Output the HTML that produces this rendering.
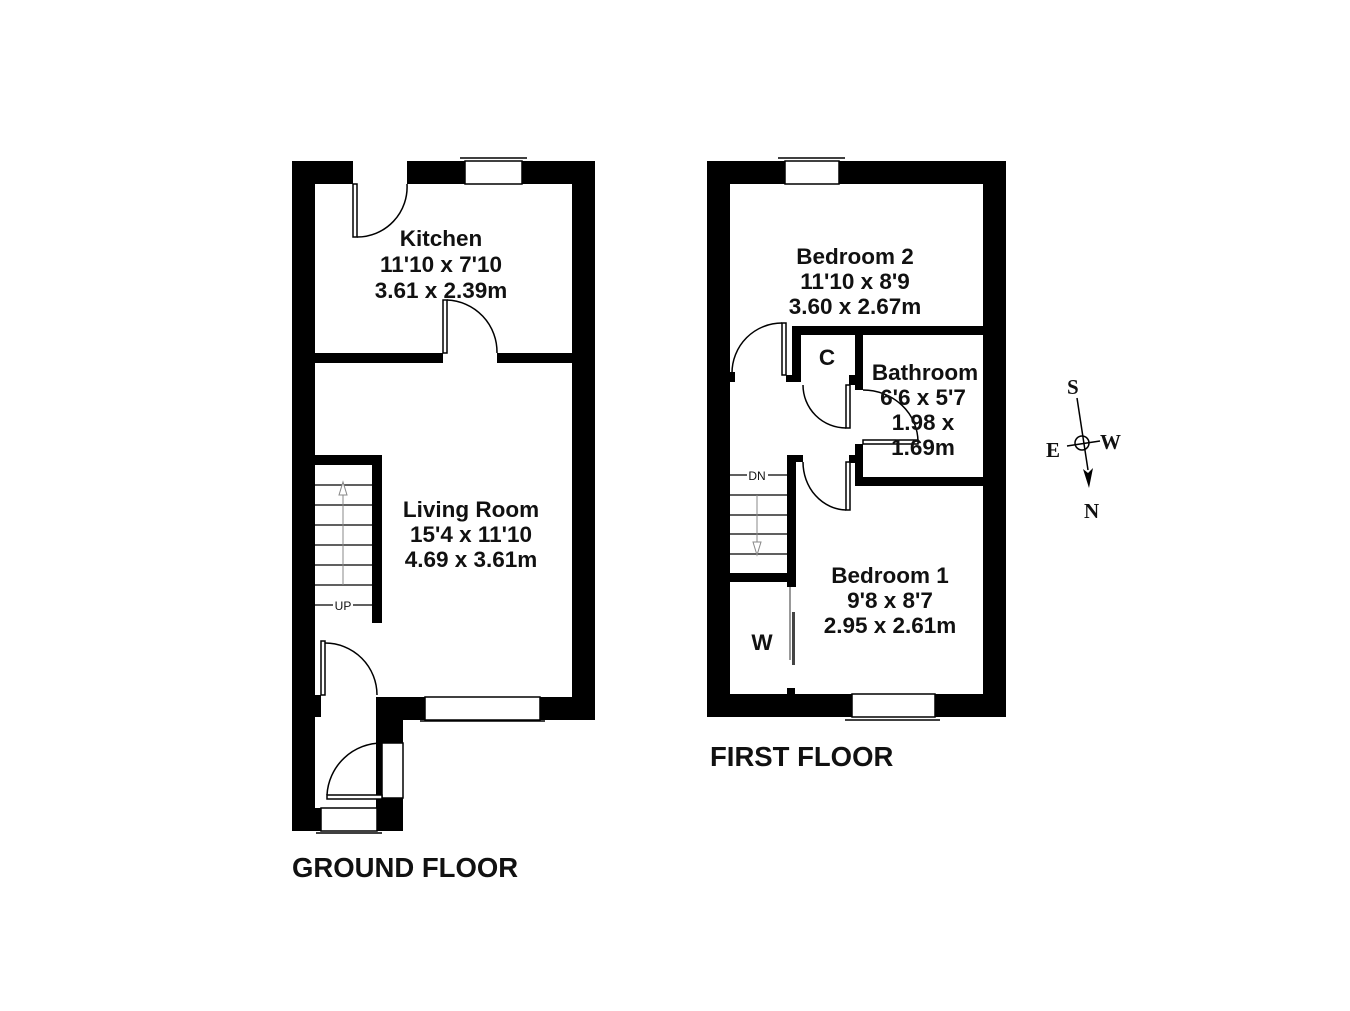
<!DOCTYPE html>
<html><head><style>body{margin:0;background:#fff}svg{display:block}text{font-family:"Liberation Sans",Arial,sans-serif;font-weight:bold;fill:#111}</style></head><body>
<svg width="1350" height="1011" viewBox="0 0 1350 1011" xmlns="http://www.w3.org/2000/svg">
<g fill="#000">
<rect x="292" y="161" width="61" height="23"/><rect x="407" y="161" width="188" height="23"/>
<rect x="292" y="161" width="23" height="670"/>
<rect x="572" y="161" width="23" height="559"/>
<rect x="315" y="353" width="128" height="10"/><rect x="497" y="353" width="75" height="10"/>
<rect x="376" y="697" width="219" height="23"/>
<rect x="376" y="697" width="27" height="46"/><rect x="376" y="697" width="6" height="134"/><rect x="376" y="798" width="27" height="33"/>
<rect x="292" y="808" width="111" height="23"/>
<rect x="315" y="695" width="6" height="22"/>
<rect x="315" y="455" width="67" height="10"/><rect x="372" y="455" width="10" height="168"/>
<rect x="707" y="161" width="299" height="23"/>
<rect x="707" y="161" width="23" height="556"/>
<rect x="983" y="161" width="23" height="556"/>
<rect x="707" y="694" width="299" height="23"/>
<rect x="792" y="326" width="191" height="9"/>
<rect x="792" y="326" width="9" height="56"/><rect x="786" y="375" width="15" height="7"/>
<rect x="730" y="372" width="5" height="10"/>
<rect x="855" y="326" width="8" height="64"/><rect x="849" y="375" width="14" height="10"/>
<rect x="855" y="444" width="8" height="42"/><rect x="855" y="477" width="128" height="9"/><rect x="849" y="455" width="14" height="8"/>
<rect x="787" y="455" width="9" height="132"/><rect x="787" y="455" width="16" height="7"/>
<rect x="730" y="573" width="66" height="9"/>
<rect x="787" y="688" width="8" height="6"/>
</g>
<g fill="#fff" stroke="#000" stroke-width="1.5">
<rect x="465" y="161" width="57" height="23"/><line x1="460" y1="158" x2="527" y2="158"/>
<rect x="425" y="697" width="115" height="23"/><line x1="420" y1="721" x2="545" y2="721"/>
<rect x="321" y="808" width="56" height="23"/><line x1="316" y1="833" x2="382" y2="833"/>
<rect x="785" y="161" width="54" height="23"/><line x1="778" y1="158" x2="845" y2="158"/>
<rect x="852" y="694" width="83" height="23"/><line x1="845" y1="720" x2="940" y2="720"/>
<rect x="382" y="743" width="21" height="55"/>
</g>
<g fill="none" stroke="#000" stroke-width="1.5">
<rect x="353" y="184" width="4" height="53" fill="#fff"/><path d="M357 237 A50 50 0 0 0 407 184"/>
<rect x="443" y="300" width="4" height="53" fill="#fff"/><path d="M447 300 A52 52 0 0 1 497 353"/>
<rect x="321" y="641" width="4" height="54" fill="#fff"/><path d="M325 643 A52 52 0 0 1 377 695"/>
<rect x="327" y="795" width="55" height="4" fill="#fff"/><path d="M327 795 A55 55 0 0 1 382 743"/>
<rect x="782" y="323" width="4" height="52" fill="#fff"/><path d="M782 323 A50 50 0 0 0 732 373"/>
<rect x="846" y="385" width="4" height="43" fill="#fff"/><path d="M803 385 A43 43 0 0 0 846 428"/>
<rect x="863" y="440" width="55" height="4" fill="#fff"/><path d="M863 390 A55 52 0 0 1 918 442"/>
<rect x="846" y="462" width="4" height="48" fill="#fff"/><path d="M803 462 A44 48 0 0 0 846 510"/>
</g>
<g stroke="#000" stroke-width="1.2">
<line x1="315" y1="485" x2="372" y2="485"/><line x1="315" y1="505" x2="372" y2="505"/><line x1="315" y1="525" x2="372" y2="525"/><line x1="315" y1="545" x2="372" y2="545"/><line x1="315" y1="565" x2="372" y2="565"/><line x1="315" y1="585" x2="372" y2="585"/>
<line x1="315" y1="605" x2="333" y2="605"/><line x1="353" y1="605" x2="372" y2="605"/>
<line x1="730" y1="475" x2="747" y2="475"/><line x1="768" y1="475" x2="787" y2="475"/>
<line x1="730" y1="495" x2="787" y2="495"/><line x1="730" y1="515" x2="787" y2="515"/><line x1="730" y1="534" x2="787" y2="534"/><line x1="730" y1="554" x2="787" y2="554"/>
</g>
<g stroke="#888" stroke-width="1" fill="#fff">
<line x1="343" y1="585" x2="343" y2="490"/><path d="M339 495 L343 482 L347 495 Z"/>
<line x1="757" y1="495" x2="757" y2="545"/><path d="M753 542 L757 555 L761 542 Z"/>
</g>
<rect x="789" y="587" width="2" height="73" fill="#999"/>
<rect x="792" y="612" width="3" height="53" fill="#444"/>
<text x="343" y="610" font-size="12" text-anchor="middle" style="font-weight:normal">UP</text>
<text x="757" y="480" font-size="12" text-anchor="middle" style="font-weight:normal">DN</text>
<g font-size="22.5" text-anchor="middle">
<text x="441" y="246">Kitchen</text><text x="441" y="272">11'10 x 7'10</text><text x="441" y="298">3.61 x 2.39m</text>
<text x="471" y="517">Living Room</text><text x="471" y="542">15'4 x 11'10</text><text x="471" y="567">4.69 x 3.61m</text>
<text x="855" y="264">Bedroom 2</text><text x="855" y="289">11'10 x 8'9</text><text x="855" y="314">3.60 x 2.67m</text>
<text x="925" y="380">Bathroom</text><text x="923" y="405">6'6 x 5'7</text><text x="923" y="430">1.98 x</text><text x="923" y="455">1.69m</text>
<text x="827" y="365">C</text><text x="762" y="650">W</text>
<text x="890" y="583">Bedroom 1</text><text x="890" y="608">9'8 x 8'7</text><text x="890" y="633">2.95 x 2.61m</text>
</g>
<text x="292" y="877" font-size="27.5">GROUND FLOOR</text>
<text x="710" y="766" font-size="27.5">FIRST FLOOR</text>
<g stroke="#000" stroke-width="1.5" fill="none">
<line x1="1077" y1="398" x2="1088" y2="470"/><line x1="1067" y1="446" x2="1100" y2="441"/><circle cx="1082" cy="443" r="7"/>
</g>
<path d="M1083 469 L1089 488 L1093 468 L1088 473 Z" fill="#000"/>
<g font-size="21">
<text x="1067" y="394" style="font-family:'Liberation Serif',serif">S</text>
<text x="1100" y="449" style="font-family:'Liberation Serif',serif">W</text>
<text x="1046" y="457" style="font-family:'Liberation Serif',serif">E</text>
<text x="1084" y="518" style="font-family:'Liberation Serif',serif">N</text>
</g>
</svg>
</body></html>
